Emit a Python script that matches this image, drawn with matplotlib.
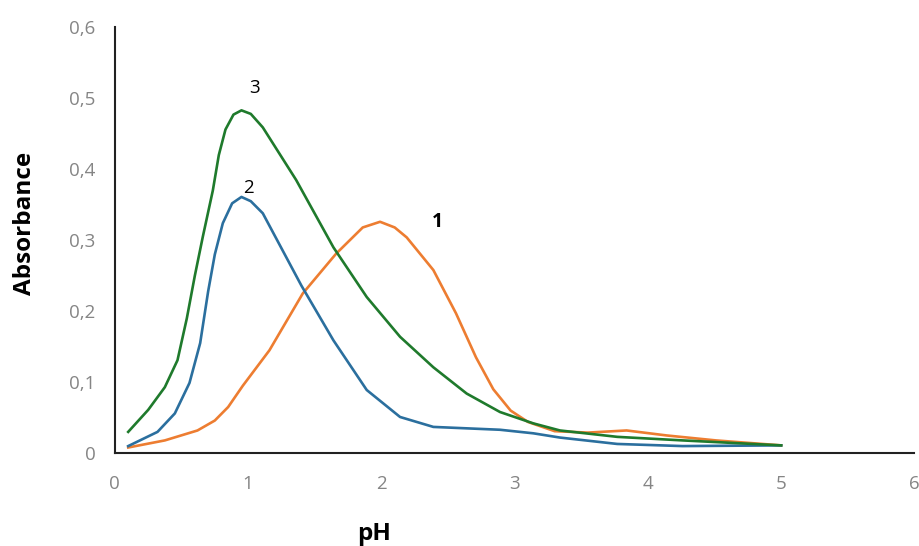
import numpy as np
import matplotlib.pyplot as plt

plt.rcParams['font.family'] = ['Open Sans', 'DejaVu Sans']

# readings taken off the curves (pH, absorbance)
ph_1 = [0.1, 0.375, 0.62, 0.75, 0.85, 0.96, 1.16, 1.41, 1.66, 1.86, 1.99, 2.10, 2.19,
        2.39, 2.56, 2.71, 2.84, 2.97, 3.1, 3.3, 3.55, 3.84, 4.14, 4.51, 5.0]
abs_1 = [0.008, 0.018, 0.032, 0.046, 0.065, 0.095, 0.145, 0.225, 0.281, 0.318, 0.326, 0.318, 0.304,
         0.258, 0.197, 0.135, 0.090, 0.060, 0.044, 0.031, 0.029, 0.032, 0.025, 0.018, 0.011]

ph_2 = [0.1, 0.32, 0.45, 0.56, 0.64, 0.70, 0.75, 0.81, 0.88, 0.95, 1.02, 1.11, 1.40, 1.64,
        1.89, 2.14, 2.39, 2.64, 2.89, 3.14, 3.34, 3.77, 4.26, 5.0]
abs_2 = [0.010, 0.030, 0.056, 0.099, 0.155, 0.228, 0.280, 0.324, 0.352, 0.361, 0.355, 0.338, 0.236, 0.159,
         0.089, 0.051, 0.037, 0.035, 0.033, 0.028, 0.022, 0.013, 0.010, 0.011]

ph_3 = [0.1, 0.25, 0.375, 0.47, 0.54, 0.60, 0.66, 0.735, 0.78, 0.83, 0.89, 0.95, 1.02, 1.11, 1.36,
        1.64, 1.89, 2.14, 2.39, 2.64, 2.89, 3.14, 3.34, 3.77, 4.26, 5.0]
abs_3 = [0.030, 0.061, 0.093, 0.131, 0.190, 0.250, 0.305, 0.370, 0.420, 0.456, 0.477, 0.483, 0.478, 0.459, 0.385,
         0.290, 0.220, 0.164, 0.121, 0.084, 0.058, 0.042, 0.032, 0.023, 0.018, 0.011]

x_ticks = [0, 1, 2, 3, 4, 5, 6]
y_ticks = [0, 0.1, 0.2, 0.3, 0.4, 0.5, 0.6]
y_tick_labels = ['0', '0,1', '0,2', '0,3', '0,4', '0,5', '0,6']

fig = plt.figure(figsize=(9.19, 5.46), dpi=100)
ax = fig.add_axes([0.125, 0.17, 0.87, 0.78])

ax.plot(ph_1, abs_1, color='#ed7d31', lw=1.9, solid_joinstyle='round')
ax.plot(ph_2, abs_2, color='#2b6f9e', lw=1.9, solid_joinstyle='round')
ax.plot(ph_3, abs_3, color='#1f7a2c', lw=1.9, solid_joinstyle='round')

# curve numbers
ax.text(1.05, 0.514, '3', fontsize=13.5, ha='center', va='center')
ax.text(1.0, 0.373, '2', fontsize=13.5, ha='center', va='center')
ax.text(2.42, 0.325, '1', fontsize=14, fontweight='bold', ha='center', va='center')

ax.set_xlim(0, 6)
ax.set_ylim(0, 0.6)
ax.set_xticks(x_ticks)
ax.set_yticks(y_ticks)
ax.set_yticklabels(y_tick_labels)
ax.tick_params(length=0, colors='#858585', labelsize=13.5)
ax.tick_params(axis='x', pad=16)
ax.tick_params(axis='y', pad=14)

for s in ['top', 'right']:
    ax.spines[s].set_visible(False)
ax.spines['left'].set_color('#222222')
ax.spines['bottom'].set_color('#222222')
ax.spines['left'].set_linewidth(1.5)
ax.spines['bottom'].set_linewidth(1.5)

# axis titles placed as in the reference
fig.text(374 / 919, 1 - 534 / 546, 'pH', fontsize=17.5, fontweight='bold', ha='center', va='center')
fig.text(25 / 919, 1 - 223 / 546, 'Absorbance', fontsize=17.5, fontweight='bold',
         rotation=90, ha='center', va='center')

fig.savefig('out.png', dpi=100)
